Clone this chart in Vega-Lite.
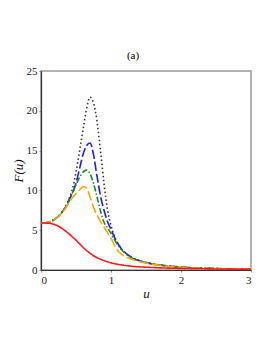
{
  "$schema": "https://vega.github.io/schema/vega-lite/v6.json",
  "autosize": {"type": "none"},
  "padding": {"left": 41, "top": 71, "right": 22, "bottom": 83},
  "width": 210,
  "height": 199,
  "background": "white",
  "title": {"text": "(a)", "dx": -13, "offset": 4, "font": "Times New Roman, Liberation Serif, serif", "fontSize": 11, "fontWeight": 400, "color": "#000000"},
  "config": {
    "font": "Times New Roman, Liberation Serif, serif",
    "view": {"stroke": "#9a9a9a", "strokeWidth": 1.5},
    "axis": {"labelFont": "Times New Roman, Liberation Serif, serif", "labelFontSize": 11, "labelColor": "#222", "titleFont": "Times New Roman, Liberation Serif, serif", "titleFontStyle": "italic", "titleFontWeight": 400, "titleFontSize": 13, "titleColor": "#111", "domainColor": "#333", "domainWidth": 1.2, "tickColor": "#888", "tickSize": 2, "grid": false}
  },
  "data": {"values": [
    {"s":"1","u":0,"F":5.9},{"s":"1","u":0.05,"F":5.92},{"s":"1","u":0.1,"F":6.0},{"s":"1","u":0.15,"F":6.15},{"s":"1","u":0.2,"F":6.4},{"s":"1","u":0.25,"F":6.75},{"s":"1","u":0.3,"F":7.25},{"s":"1","u":0.35,"F":7.95},{"s":"1","u":0.4,"F":8.9},{"s":"1","u":0.45,"F":10.2},{"s":"1","u":0.5,"F":12.3},{"s":"1","u":0.55,"F":14.9},{"s":"1","u":0.6,"F":17.6},{"s":"1","u":0.65,"F":20.2},{"s":"1","u":0.7,"F":21.7},{"s":"1","u":0.75,"F":21.0},{"s":"1","u":0.8,"F":18.7},{"s":"1","u":0.85,"F":15.0},{"s":"1","u":0.9,"F":10.9},{"s":"1","u":0.95,"F":7.6},{"s":"1","u":1.0,"F":5.6},{"s":"1","u":1.05,"F":4.2},{"s":"1","u":1.1,"F":3.3},{"s":"1","u":1.15,"F":2.65},{"s":"1","u":1.2,"F":2.2},{"s":"1","u":1.25,"F":1.85},{"s":"1","u":1.3,"F":1.58},{"s":"1","u":1.35,"F":1.36},{"s":"1","u":1.4,"F":1.2},{"s":"1","u":1.45,"F":1.06},{"s":"1","u":1.5,"F":0.95},{"s":"1","u":1.6,"F":0.77},{"s":"1","u":1.7,"F":0.63},{"s":"1","u":1.8,"F":0.52},{"s":"1","u":1.9,"F":0.44},{"s":"1","u":2.0,"F":0.37},{"s":"1","u":2.2,"F":0.27},{"s":"1","u":2.4,"F":0.21},{"s":"1","u":2.6,"F":0.16},{"s":"1","u":2.8,"F":0.13},{"s":"1","u":3.0,"F":0.1},
    {"s":"2","u":0,"F":5.9},{"s":"2","u":0.05,"F":5.92},{"s":"2","u":0.1,"F":6.0},{"s":"2","u":0.15,"F":6.15},{"s":"2","u":0.2,"F":6.4},{"s":"2","u":0.25,"F":6.75},{"s":"2","u":0.3,"F":7.25},{"s":"2","u":0.35,"F":7.9},{"s":"2","u":0.4,"F":8.8},{"s":"2","u":0.45,"F":9.7},{"s":"2","u":0.5,"F":10.9},{"s":"2","u":0.55,"F":12.7},{"s":"2","u":0.6,"F":14.5},{"s":"2","u":0.65,"F":15.6},{"s":"2","u":0.7,"F":15.95},{"s":"2","u":0.75,"F":14.5},{"s":"2","u":0.8,"F":11.8},{"s":"2","u":0.85,"F":9.3},{"s":"2","u":0.9,"F":7.5},{"s":"2","u":0.95,"F":6.1},{"s":"2","u":1.0,"F":5.1},{"s":"2","u":1.05,"F":4.1},{"s":"2","u":1.1,"F":3.3},{"s":"2","u":1.15,"F":2.65},{"s":"2","u":1.2,"F":2.2},{"s":"2","u":1.25,"F":1.83},{"s":"2","u":1.3,"F":1.56},{"s":"2","u":1.35,"F":1.34},{"s":"2","u":1.4,"F":1.18},{"s":"2","u":1.45,"F":1.04},{"s":"2","u":1.5,"F":0.93},{"s":"2","u":1.6,"F":0.75},{"s":"2","u":1.7,"F":0.62},{"s":"2","u":1.8,"F":0.51},{"s":"2","u":1.9,"F":0.43},{"s":"2","u":2.0,"F":0.36},{"s":"2","u":2.2,"F":0.26},{"s":"2","u":2.4,"F":0.2},{"s":"2","u":2.6,"F":0.16},{"s":"2","u":2.8,"F":0.12},{"s":"2","u":3.0,"F":0.1},
    {"s":"3","u":0,"F":5.9},{"s":"3","u":0.05,"F":5.92},{"s":"3","u":0.1,"F":6.0},{"s":"3","u":0.15,"F":6.15},{"s":"3","u":0.2,"F":6.4},{"s":"3","u":0.25,"F":6.75},{"s":"3","u":0.3,"F":7.25},{"s":"3","u":0.35,"F":7.85},{"s":"3","u":0.4,"F":8.65},{"s":"3","u":0.45,"F":9.7},{"s":"3","u":0.5,"F":10.7},{"s":"3","u":0.55,"F":11.6},{"s":"3","u":0.6,"F":12.3},{"s":"3","u":0.65,"F":12.55},{"s":"3","u":0.7,"F":12.1},{"s":"3","u":0.75,"F":10.9},{"s":"3","u":0.8,"F":9.2},{"s":"3","u":0.85,"F":7.4},{"s":"3","u":0.9,"F":6.0},{"s":"3","u":0.95,"F":5.3},{"s":"3","u":1.0,"F":4.6},{"s":"3","u":1.05,"F":3.8},{"s":"3","u":1.1,"F":3.1},{"s":"3","u":1.15,"F":2.55},{"s":"3","u":1.2,"F":2.1},{"s":"3","u":1.25,"F":1.78},{"s":"3","u":1.3,"F":1.52},{"s":"3","u":1.35,"F":1.32},{"s":"3","u":1.4,"F":1.15},{"s":"3","u":1.45,"F":1.02},{"s":"3","u":1.5,"F":0.91},{"s":"3","u":1.6,"F":0.74},{"s":"3","u":1.7,"F":0.61},{"s":"3","u":1.8,"F":0.5},{"s":"3","u":1.9,"F":0.42},{"s":"3","u":2.0,"F":0.35},{"s":"3","u":2.2,"F":0.26},{"s":"3","u":2.4,"F":0.2},{"s":"3","u":2.6,"F":0.15},{"s":"3","u":2.8,"F":0.12},{"s":"3","u":3.0,"F":0.1},
    {"s":"4","u":0,"F":5.9},{"s":"4","u":0.05,"F":5.92},{"s":"4","u":0.1,"F":6.0},{"s":"4","u":0.15,"F":6.15},{"s":"4","u":0.2,"F":6.4},{"s":"4","u":0.25,"F":6.72},{"s":"4","u":0.3,"F":7.2},{"s":"4","u":0.35,"F":7.75},{"s":"4","u":0.4,"F":8.5},{"s":"4","u":0.45,"F":9.1},{"s":"4","u":0.5,"F":9.6},{"s":"4","u":0.55,"F":10.05},{"s":"4","u":0.6,"F":10.45},{"s":"4","u":0.65,"F":10.3},{"s":"4","u":0.7,"F":9.2},{"s":"4","u":0.75,"F":7.9},{"s":"4","u":0.8,"F":6.9},{"s":"4","u":0.85,"F":6.1},{"s":"4","u":0.9,"F":5.4},{"s":"4","u":0.95,"F":4.7},{"s":"4","u":1.0,"F":4.0},{"s":"4","u":1.05,"F":3.1},{"s":"4","u":1.1,"F":2.4},{"s":"4","u":1.15,"F":2.0},{"s":"4","u":1.2,"F":1.7},{"s":"4","u":1.25,"F":1.5},{"s":"4","u":1.3,"F":1.33},{"s":"4","u":1.35,"F":1.2},{"s":"4","u":1.4,"F":1.08},{"s":"4","u":1.45,"F":0.97},{"s":"4","u":1.5,"F":0.87},{"s":"4","u":1.6,"F":0.71},{"s":"4","u":1.7,"F":0.58},{"s":"4","u":1.8,"F":0.48},{"s":"4","u":1.9,"F":0.4},{"s":"4","u":2.0,"F":0.34},{"s":"4","u":2.2,"F":0.25},{"s":"4","u":2.4,"F":0.19},{"s":"4","u":2.6,"F":0.15},{"s":"4","u":2.8,"F":0.12},{"s":"4","u":3.0,"F":0.09},
    {"s":"5","u":0,"F":5.9},{"s":"5","u":0.05,"F":5.9},{"s":"5","u":0.1,"F":5.88},{"s":"5","u":0.15,"F":5.82},{"s":"5","u":0.2,"F":5.7},{"s":"5","u":0.25,"F":5.5},{"s":"5","u":0.3,"F":5.22},{"s":"5","u":0.35,"F":4.9},{"s":"5","u":0.4,"F":4.55},{"s":"5","u":0.45,"F":4.15},{"s":"5","u":0.5,"F":3.75},{"s":"5","u":0.55,"F":3.3},{"s":"5","u":0.6,"F":2.85},{"s":"5","u":0.65,"F":2.45},{"s":"5","u":0.7,"F":2.1},{"s":"5","u":0.75,"F":1.8},{"s":"5","u":0.8,"F":1.55},{"s":"5","u":0.85,"F":1.35},{"s":"5","u":0.9,"F":1.18},{"s":"5","u":0.95,"F":1.03},{"s":"5","u":1.0,"F":0.9},{"s":"5","u":1.05,"F":0.8},{"s":"5","u":1.1,"F":0.71},{"s":"5","u":1.15,"F":0.64},{"s":"5","u":1.2,"F":0.57},{"s":"5","u":1.25,"F":0.52},{"s":"5","u":1.3,"F":0.47},{"s":"5","u":1.35,"F":0.43},{"s":"5","u":1.4,"F":0.4},{"s":"5","u":1.45,"F":0.37},{"s":"5","u":1.5,"F":0.35},{"s":"5","u":1.6,"F":0.31},{"s":"5","u":1.7,"F":0.27},{"s":"5","u":1.8,"F":0.24},{"s":"5","u":1.9,"F":0.22},{"s":"5","u":2.0,"F":0.2},{"s":"5","u":2.2,"F":0.17},{"s":"5","u":2.4,"F":0.14},{"s":"5","u":2.6,"F":0.12},{"s":"5","u":2.8,"F":0.1},{"s":"5","u":3.0,"F":0.09}
  ]},
  "mark": {"type": "line", "interpolate": "monotone", "strokeWidth": 1.6, "clip": true},
  "encoding": {
    "x": {"field": "u", "type": "quantitative", "title": "u", "scale": {"domain": [0, 3], "nice": false}, "axis": {"values": [0, 1, 2, 3], "labelPadding": 2, "titlePadding": 2}},
    "y": {"field": "F", "type": "quantitative", "title": "F(u)", "scale": {"domain": [0, 25], "nice": false}, "axis": {"values": [0, 5, 10, 15, 20, 25], "labelPadding": 2, "titlePadding": 1}},
    "color": {"field": "s", "type": "nominal", "legend": null, "scale": {"domain": ["1", "2", "3", "4", "5"], "range": ["#333333", "#1a1aff", "#1e8a1e", "#ffa500", "#ff1a1a"]}},
    "strokeDash": {"field": "s", "type": "nominal", "legend": null, "scale": {"domain": ["1", "2", "3", "4", "5"], "range": [[1.5, 2.5], [9, 3], [6, 2, 1.5, 2], [10, 3], [1, 0]]}}
  }
}
